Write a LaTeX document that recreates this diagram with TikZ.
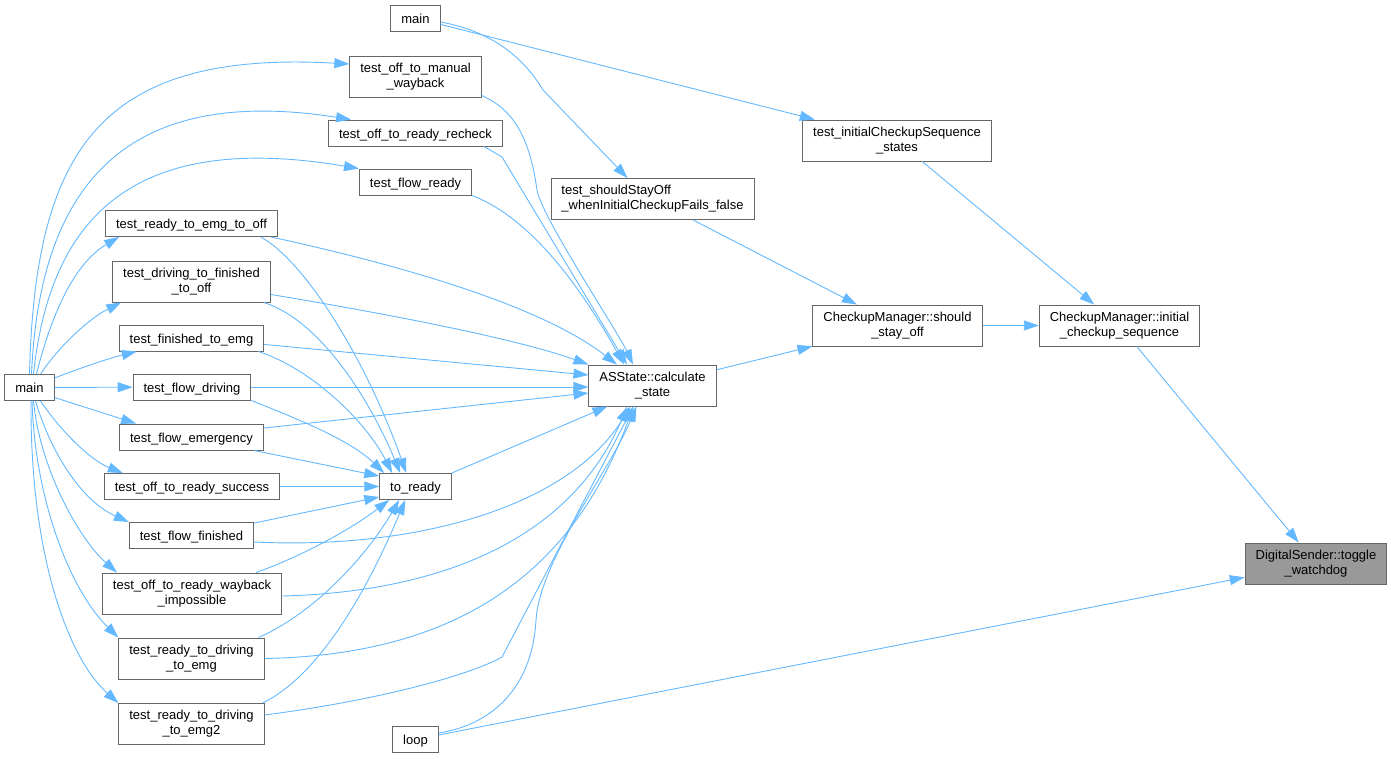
\documentclass[tikz,border=0pt]{standalone}
\usepackage{fontspec}
\setmainfont{Liberation Sans}
\usetikzlibrary{arrows.meta}
\definecolor{edgeblue}{HTML}{63B8FF}
\definecolor{boxline}{HTML}{666666}
\definecolor{boxhl}{HTML}{999999}

\begin{document}
\begin{tikzpicture}%
    [x=1pt, y=-1pt,
    box/.style={rectangle, draw=boxline, fill=white, line width=0.9pt, align=center,
      font=\fontsize{13}{15}\selectfont, inner xsep=10.5pt, inner ysep=0pt},
    func/.style={box, text height=11pt, text depth=1pt, minimum height=26pt},
    func2/.style={box, minimum height=41pt},
    call/.style={draw=edgeblue, line width=0.9pt, -{Triangle[length=15pt,width=10pt]}}]

    \useasboundingbox (0,0) rectangle (1391,758);

    \node [func]  (topmain)   at (415.5,18)    {main};
    \node [func2] (manual)    at (415.5,76.5)  {test\_off\_to\_manual\\\_wayback};
    \node [func]  (recheck)   at (415.5,133)   {test\_off\_to\_ready\_recheck};
    \node [func]  (flowready) at (415.5,182)   {test\_flow\_ready};

    \node [func]  (emgoff)    at (191.5,223.5) {test\_ready\_to\_emg\_to\_off};
    \node [func2] (drvfin)    at (191.5,281.5) {test\_driving\_to\_finished\\\_to\_off};
    \node [func]  (finemg)    at (191.5,338)   {test\_finished\_to\_emg};
    \node [func]  (leftmain)  at (29.5,387.5)  {main};
    \node [func]  (flowdrv)   at (192,387)     {test\_flow\_driving};
    \node [func]  (flowemg)   at (191.5,437)   {test\_flow\_emergency};
    \node [func]  (success)   at (192,486.5)   {test\_off\_to\_ready\_success};
    \node [func]  (flowfin)   at (191.5,535.5) {test\_flow\_finished};
    \node [func2] (wayimp)    at (192,593.5)   {test\_off\_to\_ready\_wayback\\\_impossible};
    \node [func2] (drvemg)    at (191.5,658.5) {test\_ready\_to\_driving\\\_to\_emg};
    \node [func2] (drvemg2)   at (191.5,724)   {test\_ready\_to\_driving\\\_to\_emg2};

    \node [func]  (toready)   at (415.5,486.5) {to\_ready};
    \node [func]  (loop)      at (415.5,739.5) {loop};
    \node [func2] (calc)      at (652.5,385.5) {ASState::calculate\\\_state};
    \node [func2,align=left] (stayoff) at (652.5,199) {test\_shouldStayOff\\\_whenInitialCheckupFails\_false};
    \node [func2] (seqtest)   at (897,140.5)   {test\_initialCheckupSequence\\\_states};
    \node [func2] (shouldoff) at (897.5,325.5) {CheckupManager::should\\\_stay\_off};
    \node [func2] (initial)   at (1119.5,325.5) {CheckupManager::initial\\\_checkup\_sequence};
    \node [func2,fill=boxhl] (toggle) at (1316,563.5) {DigitalSender::toggle\\\_watchdog};

    % main (left) calls the tests
    \draw [call] (leftmain.north) .. controls (35,150) and (100,50) .. ([yshift=12.5pt]manual.west);
    \draw [call] ([xshift=2pt]leftmain.north) .. controls (40,180) and (130,85) .. ([xshift=23pt]recheck.north west);
    \draw [call] ([xshift=4pt]leftmain.north) .. controls (50,220) and (130,130) .. (flowready.north west);
    \draw [call] ([xshift=7pt]leftmain.north) .. controls (55,300) and (80,260) .. ([xshift=14pt]emgoff.south west);
    \draw [call] ([xshift=11pt]leftmain.north) .. controls (60,345) and (90,318) .. ([xshift=9pt]drvfin.south west);
    \draw [call] ([yshift=9.5pt]leftmain.east) .. controls (80,368) and (110,358) .. ([xshift=18pt]finemg.south west);
    \draw [call] (leftmain) to (flowdrv);
    \draw [call] ([yshift=-10pt]leftmain.east) to ([xshift=17pt]flowemg.north west);
    \draw [call] ([xshift=11pt]leftmain.south) .. controls (60,430) and (90,460) .. ([xshift=19pt]success.north west);
    \draw [call] ([xshift=6pt]leftmain.south) .. controls (50,450) and (80,500) .. (flowfin.north west);
    \draw [call] ([xshift=4pt]leftmain.south) .. controls (40,470) and (80,540) .. ([xshift=15pt]wayimp.north west);
    \draw [call] ([xshift=2.5pt]leftmain.south) .. controls (35,500) and (70,590) .. (drvemg.north west);
    \draw [call] ([xshift=1.5pt]leftmain.south) .. controls (30,560) and (70,660) .. (drvemg2.north west);

    % main (top)
    \draw [call] (topmain) to (seqtest);
    \draw [call] ([yshift=-4pt]topmain.east) .. controls (495,32) and (525,60) .. (543,90) -- ([xshift=-25pt]stayoff.north);

    % into calculate_state
    \draw [call] ([yshift=2pt]manual.south east) .. controls (515,110) and (530,140) .. (537,190)
      .. controls (540.5,215) and (618,332) .. ([xshift=-19.5pt]calc.north);
    \draw [call] ([xshift=-19pt]recheck.south east) -- (502,157) -- ([xshift=-25.5pt]calc.north);
    \draw [call] (flowready.south east) .. controls (510,210) and (560,250) .. ([xshift=-28.5pt]calc.north);
    \draw [call] ([xshift=-7pt]emgoff.south east) .. controls (400,265) and (540,305) .. ([xshift=-35.5pt]calc.north);
    \draw [call] ([yshift=8pt]drvfin.south east) .. controls (400,316) and (520,340) .. (calc.north west);
    \draw [call] ([yshift=7pt]finemg.south east) to ([yshift=10.5pt]calc.west);
    \draw [call] (flowdrv.east) to (flowdrv.east -| calc.west);
    \draw [call] ([yshift=9pt]flowemg.east) to ([yshift=-7.5pt]calc.west);
    \draw [call] (toready.north east) to ([xshift=19pt]calc.south west);
    \draw [call] ([yshift=-6.5pt]flowfin.east) .. controls (420,550) and (570,505) .. ([xshift=42pt]calc.south west);
    \draw [call] ([yshift=-2.5pt]wayimp.east) .. controls (440,592) and (570,540) .. ([xshift=39pt]calc.south west);
    \draw [call] (drvemg.east) .. controls (450,655) and (570,580) .. ([xshift=45pt]calc.south west);
    \draw [call] ([yshift=9pt]drvemg2.east) .. controls (380,700) and (470,675) .. (502,657) -- ([xshift=45pt]calc.south west);
    \draw [call] ([yshift=6.5pt]loop.east) .. controls (490,725) and (532,690) .. (536,620)
      .. controls (540,560) and (610,470) .. ([xshift=48pt]calc.south west);

    % into to_ready
    \draw [call] ([xshift=-17pt]emgoff.south east) .. controls (310,265) and (370,370) .. ([xshift=27pt]toready.north west);
    \draw [call] ([xshift=-7pt]drvfin.south east) .. controls (320,320) and (370,400) .. ([xshift=21pt]toready.north west);
    \draw [call] ([xshift=-6pt]finemg.south east) .. controls (310,368) and (365,420) .. ([xshift=13pt]toready.north west);
    \draw [call] (flowdrv.south east) .. controls (300,420) and (350,440) .. ([xshift=5pt]toready.north west);
    \draw [call] ([xshift=-10pt]flowemg.south east) to ([yshift=-3pt]toready.north west);
    \draw [call] (success) to (toready);
    \draw [call] ([yshift=-1pt]flowfin.north east) to ([yshift=3pt]toready.south west);
    \draw [call] ([xshift=-26pt]wayimp.north east) .. controls (300,557) and (350,530) .. ([xshift=10pt]toready.south west);
    \draw [call] ([xshift=-6pt]drvemg.north east) .. controls (320,610) and (370,550) .. ([xshift=20pt]toready.south west);
    \draw [call] ([xshift=-2pt]drvemg2.north east) .. controls (330,670) and (380,560) .. ([xshift=26pt]toready.south west);

    % right part
    \draw [call] (stayoff) to (shouldoff);
    \draw [call] (calc) to (shouldoff);
    \draw [call] (shouldoff) to (initial);
    \draw [call] (seqtest) to (initial);
    \draw [call] (initial) to (toggle);
    \draw [call] (loop) to (toggle);
\end{tikzpicture}
\end{document}
